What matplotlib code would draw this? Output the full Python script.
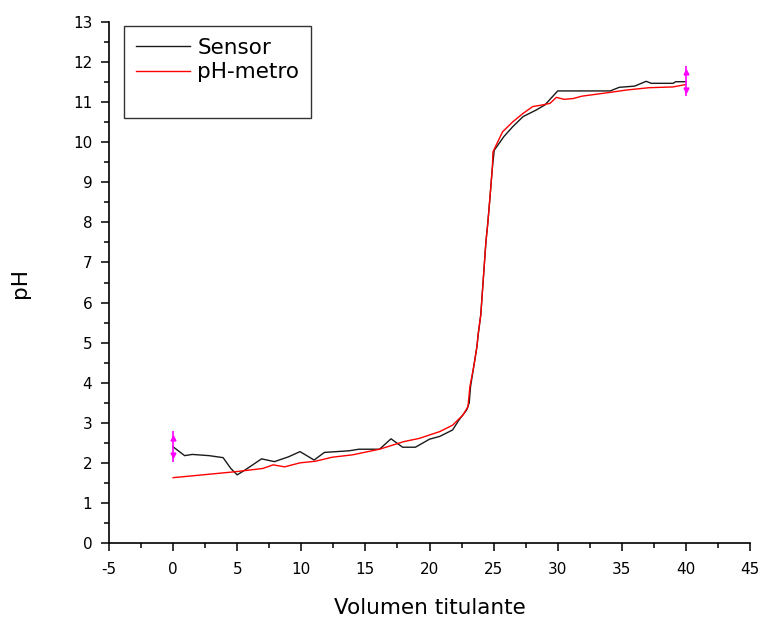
import matplotlib
matplotlib.use("Agg")
import matplotlib.pyplot as plt
from matplotlib.ticker import MultipleLocator

plt.rcParams["font.family"] = ["DejaVu Sans"]
plt.rcParams["axes.unicode_minus"] = False

# Sensor readings (black)
sensor_x = [0, 0.9, 1.5, 2.8, 3.9, 4.5, 5.0, 5.7, 6.9, 7.9, 9.0, 9.9, 11.0, 11.8,
            13.7, 14.5, 16.1, 17.0, 17.9, 18.9, 20.0, 20.8, 21.8, 22.3, 22.9,
            23.1, 23.2, 23.45, 23.7, 23.8, 24.0, 24.1, 24.2, 24.3, 24.4, 24.55,
            24.7, 24.9, 25.05, 25.8, 26.5, 27.3, 28.3, 29.0, 30.0, 34.1, 34.8,
            36.0, 36.9, 37.3, 39.0, 39.2, 40.0]
sensor_y = [2.40, 2.18, 2.21, 2.18, 2.13, 1.86, 1.70, 1.84, 2.10, 2.03, 2.15, 2.28,
            2.07, 2.26, 2.30, 2.34, 2.34, 2.60, 2.39, 2.39, 2.59, 2.66, 2.82, 3.07,
            3.32, 3.50, 3.90, 4.40, 4.90, 5.20, 5.70, 6.15, 6.60, 7.06, 7.50, 8.00,
            8.56, 9.35, 9.80, 10.14, 10.39, 10.64, 10.80, 10.93, 11.28, 11.28, 11.37,
            11.40, 11.52, 11.47, 11.47, 11.51, 11.51]

# pH-metro readings (red)
phm_x = [0, 4.9, 7.0, 7.8, 8.7, 9.9, 11.1, 12.4, 14.0, 16.1, 18.0, 19.2, 20.8,
         21.8, 22.6, 23.0, 23.15, 23.45, 23.7, 23.8, 24.0, 24.1, 24.2, 24.3, 24.4,
         24.55, 24.7, 24.9, 24.95, 25.7, 26.5, 27.3, 28.05, 28.8, 29.4, 29.9, 30.5,
         31.2, 31.9, 34.0, 35.3, 37.1, 39.0, 40.0]
phm_y = [1.63, 1.78, 1.86, 1.95, 1.90, 2.00, 2.04, 2.14, 2.20, 2.34, 2.53, 2.61,
         2.78, 2.94, 3.19, 3.40, 3.90, 4.40, 4.90, 5.23, 5.69, 6.15, 6.60, 7.06,
         7.52, 7.98, 8.56, 9.35, 9.76, 10.26, 10.51, 10.72, 10.89, 10.93, 10.97,
         11.12, 11.07, 11.09, 11.15, 11.24, 11.30, 11.36, 11.38, 11.44]

# error bars on first/last sensor point
err_x = [0, 40]
err_y = [2.41, 11.53]
err_size = 0.38

fig = plt.figure(figsize=(7.61, 6.19), dpi=100)
ax = fig.add_axes([109 / 761, 1 - 543 / 619, 641 / 761, 521 / 619])

ax.plot(sensor_x, sensor_y, color="#1a1a1a", linewidth=1.0, label="Sensor")
ax.plot(phm_x, phm_y, color="#ff0000", linewidth=1.0, label="pH-metro")
ax.plot([], [], color="none", label=" ")

ax.errorbar(err_x, err_y, yerr=err_size, fmt="none", ecolor="#ff00ff",
            elinewidth=1.2, capsize=0, zorder=5)
ax.plot(err_x, [v + 0.22 for v in err_y], "^", color="#ff00ff", markersize=3.5,
        zorder=6)
ax.plot(err_x, [v - 0.22 for v in err_y], "v", color="#ff00ff", markersize=3.5,
        zorder=6)

ax.set_xlim(-5, 45)
ax.set_ylim(0, 13)
ax.xaxis.set_major_locator(MultipleLocator(5))
ax.xaxis.set_minor_locator(MultipleLocator(2.5))
ax.yaxis.set_major_locator(MultipleLocator(1))
ax.yaxis.set_minor_locator(MultipleLocator(0.5))

for side in ("top", "right"):
    ax.spines[side].set_visible(False)
for side in ("left", "bottom"):
    ax.spines[side].set_linewidth(1.2)

ax.tick_params(which="major", direction="out", length=6, width=1.1, labelsize=11)
ax.tick_params(which="minor", direction="out", length=3.3, width=1.1)
ax.tick_params(axis="x", which="major", pad=8)
ax.tick_params(axis="y", which="major", pad=6)

ax.set_xlabel("Volumen titulante", fontsize=15.5, labelpad=15)
ax.set_ylabel("pH", fontsize=15.5, labelpad=31)

leg = ax.legend(loc="upper left", bbox_to_anchor=(124 / 761, 1 - 26 / 619),
                bbox_transform=fig.transFigure, borderaxespad=0, fontsize=15.5,
                frameon=True, fancybox=False, handlelength=2.5,
                handletextpad=0.35, labelspacing=0.2, borderpad=0.55)
leg.get_frame().set_edgecolor("black")
leg.get_frame().set_linewidth(1.0)

fig.savefig("out.png", dpi=100)
